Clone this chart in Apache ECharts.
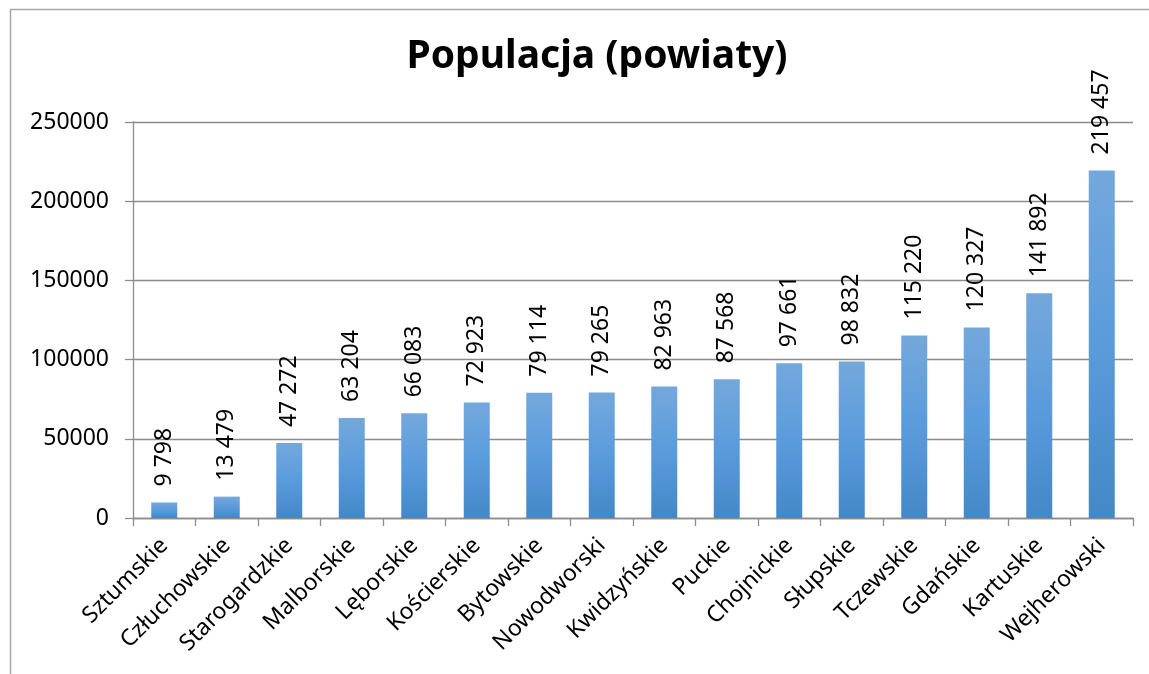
<!DOCTYPE html>
<html>
<head>
<meta charset="utf-8">
<script src="https://cdn.jsdelivr.net/npm/echarts@6/dist/echarts.min.js"></script>
<style>
html,body{margin:0;padding:0;background:#fff;}
#c{width:1149px;height:674px;}
</style>
</head>
<body>
<div id="c"></div>
<script>
const titleText = 'Populacja (powiaty)';
const categories = ['Sztumskie','Człuchowskie','Starogardzkie','Malborskie','Lęborskie','Kościerskie','Bytowskie','Nowodworski','Kwidzyńskie','Puckie','Chojnickie','Słupskie','Tczewskie','Gdańskie','Kartuskie','Wejherowski'];
const population = [9798,13479,47272,63204,66083,72923,79114,79265,82963,87568,97661,98832,115220,120327,141892,219457];
const yTicks = [0,50000,100000,150000,200000,250000];

const font = '"Noto Sans", sans-serif';
const chart = echarts.init(document.getElementById('c'));
chart.setOption({
  animation: false,
  backgroundColor: '#fff',
  title: {
    text: titleText,
    left: 592, top: 32, textAlign: 'center',
    textStyle: {fontFamily: font, fontWeight: 'bold', fontSize: 39, color: '#000'}
  },
  graphic: [{
    type: 'polyline',
    shape: {points: [[10.5, 700], [10.5, 9.5], [1160, 9.5]]},
    style: {stroke: '#a6a6a6', lineWidth: 1.5, fill: null},
    silent: true
  }],
  grid: {left: 133, right: 16, top: 122, bottom: 156, containLabel: false},
  xAxis: {
    type: 'category',
    data: categories,
    axisLine: {lineStyle: {color: '#8c8c8c', width: 1.3}},
    axisTick: {show: true, length: 8, alignWithLabel: false, lineStyle: {color: '#8c8c8c', width: 1.3}},
    axisLabel: {rotate: 45, margin: 24, interval: 0, fontFamily: font, fontSize: 23, color: '#000'}
  },
  yAxis: {
    type: 'value',
    min: yTicks[0], max: yTicks[yTicks.length - 1], interval: 50000,
    axisLine: {show: true, lineStyle: {color: '#8c8c8c', width: 1.3}},
    axisTick: {show: true, length: 8, lineStyle: {color: '#8c8c8c', width: 1.3}},
    splitLine: {lineStyle: {color: '#8c8c8c', width: 1.3}},
    axisLabel: {margin: 24, fontFamily: font, fontSize: 23, color: '#000', formatter: v => String(v)}
  },
  series: [{
    type: 'bar',
    data: population,
    barWidth: 26,
    itemStyle: {
      color: new echarts.graphic.LinearGradient(0, 0, 0, 1, [
        {offset: 0, color: '#74a8dc'},
        {offset: 0.5, color: '#5a9bdc'},
        {offset: 1, color: '#4488c8'}
      ])
    },
    label: {
      show: true,
      position: 'top',
      rotate: 90,
      align: 'left',
      verticalAlign: 'middle',
      distance: 16,
      fontFamily: font,
      fontSize: 23,
      color: '#000',
      formatter: p => String(p.value).replace(/\B(?=(\d{3})+(?!\d))/g, ' ')
    }
  }]
});
</script>
</body>
</html>
